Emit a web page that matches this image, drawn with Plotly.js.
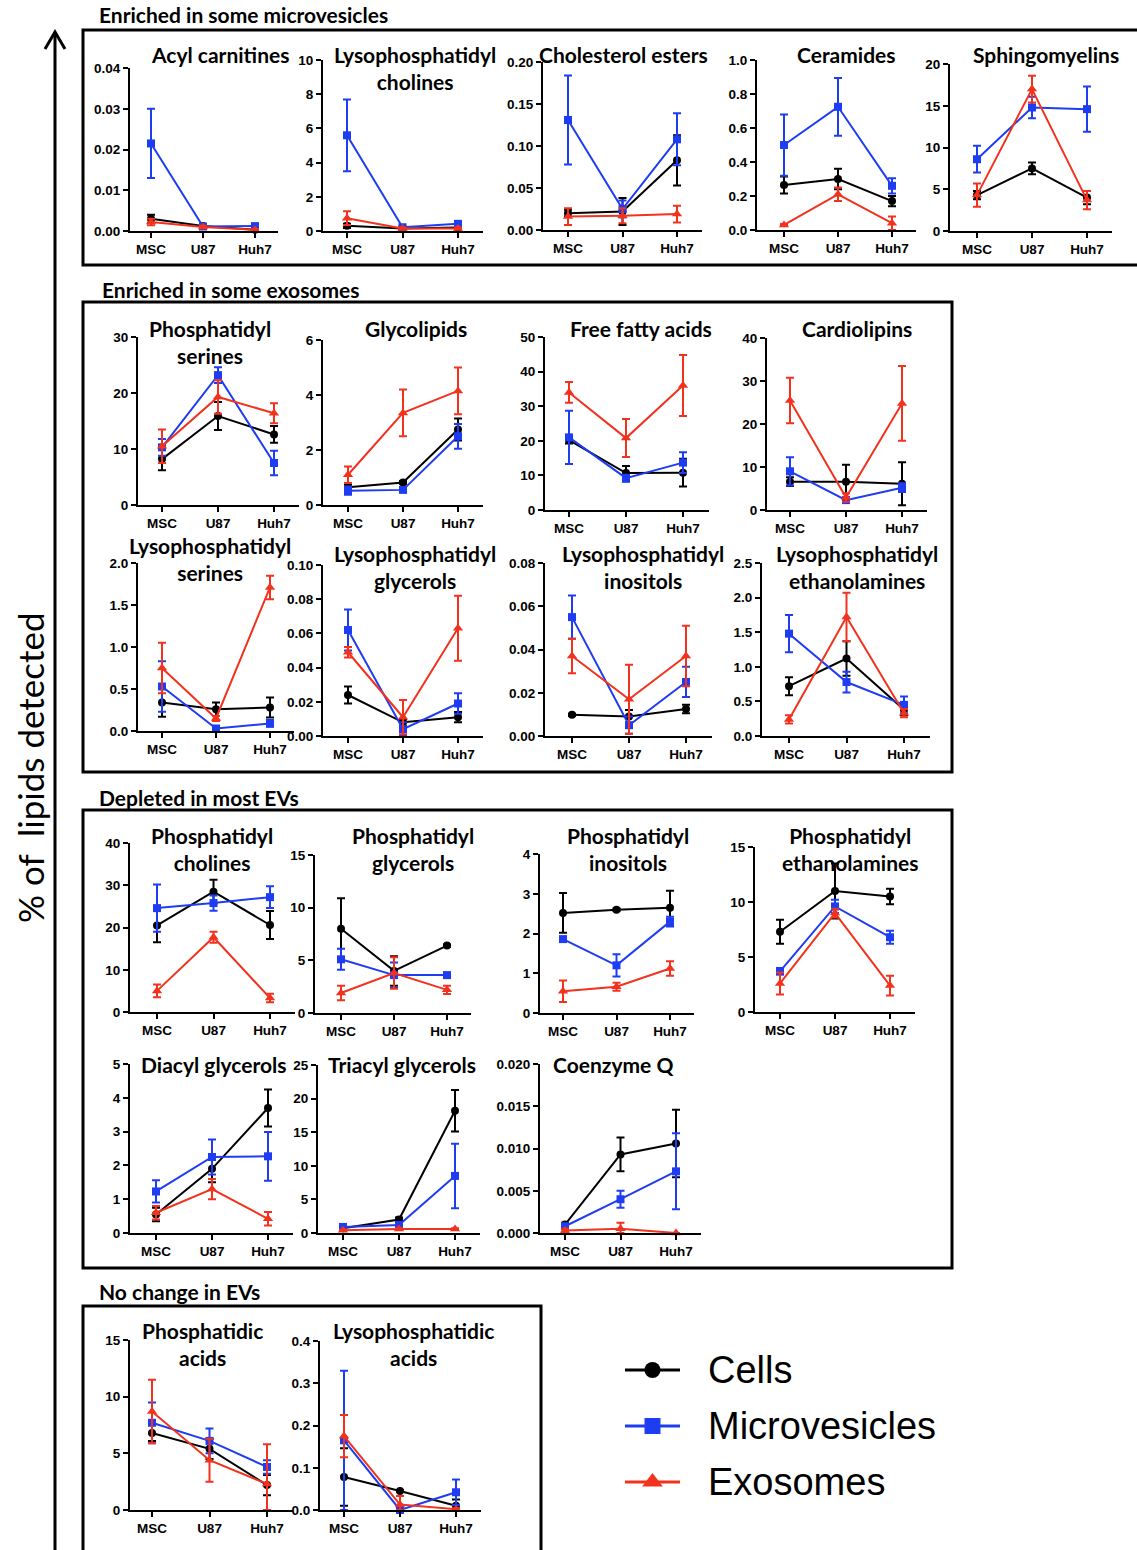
<!DOCTYPE html>
<html><head><meta charset="utf-8">
<script src="https://cdn.plot.ly/plotly-3.0.1.min.js"></script>
<style>body{margin:0;background:#fff}</style>
</head><body><div id="chart" style="width:1137px;height:1550px"></div>
<script>
// ---------------- DATA ----------------
const categories = ['MSC', 'U87', 'Huh7'];
const seriesNames = ['Cells', 'Microvesicles', 'Exosomes'];
const sectionTitles = ['Enriched in some microvesicles', 'Enriched in some exosomes', 'Depleted in most EVs', 'No change in EVs'];
const axisTitle = '% of  lipids detected';

const panelTitles = [
  'Acyl carnitines', 'Lysophosphatidyl<br>cholines', 'Cholesterol esters', 'Ceramides', 'Sphingomyelins',
  'Phosphatidyl<br>serines', 'Glycolipids', 'Free fatty acids', 'Cardiolipins',
  'Lysophosphatidyl<br>serines', 'Lysophosphatidyl<br>glycerols', 'Lysophosphatidyl<br>inositols', 'Lysophosphatidyl<br>ethanolamines',
  'Phosphatidyl<br>cholines', 'Phosphatidyl<br>glycerols', 'Phosphatidyl<br>inositols', 'Phosphatidyl<br>ethanolamines',
  'Diacyl glycerols', 'Triacyl glycerols', 'Coenzyme Q',
  'Phosphatidic<br>acids', 'Lysophosphatidic<br>acids'
];
// y-axis maxima, tick steps, decimals
const yMax   = [0.04, 10, 0.20, 1.0, 20,  30, 6, 50, 40,  2.0, 0.10, 0.08, 2.5,  40, 15, 4, 15,  5, 25, 0.020,  15, 0.4];
const yStep  = [0.01, 2, 0.05, 0.2, 5,   10, 2, 10, 10,  0.5, 0.02, 0.02, 0.5,  10, 5, 1, 5,    1, 5, 0.005,   5, 0.1];
const yDec   = [2, 0, 2, 1, 0,  0, 0, 0, 0,  1, 2, 2, 1,  0, 0, 0, 0,  0, 0, 3,  0, 1];

// means: [Cells, Microvesicles, Exosomes] x [MSC, U87, Huh7]; errors alongside
const acylCarnitines    = [[0.003, 0.0012, 0.0003], [0.0215, 0.0011, 0.0012], [0.0022, 0.001, 0.0003]];
const acylCarnitinesErr = [[0.001, 0.0003, 0.0002], [0.0085, 0.0004, 0.0004], [0.0008, 0.0003, 0.0002]];
const lysoPC    = [[0.3, 0.15, 0.2], [5.6, 0.22, 0.42], [0.75, 0.15, 0.15]];
const lysoPCErr = [[0.12, 0.05, 0.05], [2.1, 0.06, 0.1], [0.4, 0.05, 0.05]];
const cholEsters    = [[0.02, 0.022, 0.083], [0.131, 0.025, 0.108], [0.016, 0.017, 0.019]];
const cholEstersErr = [[0.004, 0.016, 0.03], [0.053, 0.01, 0.031], [0.01, 0.009, 0.01]];
const ceramides    = [[0.265, 0.30, 0.17], [0.50, 0.725, 0.26], [0.03, 0.21, 0.04]];
const ceramidesErr = [[0.05, 0.06, 0.03], [0.18, 0.17, 0.045], [0.005, 0.04, 0.04]];
const sphingo    = [[4.3, 7.5, 4.0], [8.6, 14.8, 14.6], [4.3, 17.0, 3.7]];
const sphingoErr = [[0.5, 0.7, 0.8], [1.6, 1.3, 2.7], [1.4, 1.6, 1.1]];
const phosSer    = [[8.2, 15.9, 12.6], [10.3, 23.2, 7.5], [10.5, 19.3, 16.4]];
const phosSerErr = [[2.0, 2.5, 1.5], [1.5, 1.4, 2.2], [3.0, 3.0, 1.8]];
const glycolipids    = [[0.65, 0.82, 2.75], [0.52, 0.55, 2.5], [1.1, 3.35, 4.15]];
const glycolipidsErr = [[0.1, 0.05, 0.4], [0.15, 0.06, 0.45], [0.3, 0.85, 0.85]];
const ffa    = [[20.2, 10.7, 10.8], [21.0, 9.2, 13.7], [34.0, 20.8, 36.0]];
const ffaErr = [[1.0, 2.0, 4.0], [7.7, 1.0, 3.0], [3.0, 5.5, 8.8]];
const cardiolipins    = [[6.6, 6.6, 6.1], [9.0, 2.3, 5.2], [25.5, 2.9, 24.8]];
const cardiolipinsErr = [[1.0, 3.9, 5.0], [3.3, 0.5, 1.0], [5.3, 1.0, 8.7]];
const lysoPS    = [[0.34, 0.26, 0.28], [0.53, 0.03, 0.09], [0.75, 0.15, 1.71]];
const lysoPSErr = [[0.17, 0.08, 0.12], [0.3, 0.02, 0.04], [0.3, 0.03, 0.14]];
const lysoPG    = [[0.024, 0.008, 0.011], [0.062, 0.004, 0.019], [0.049, 0.011, 0.063]];
const lysoPGErr = [[0.005, 0.002, 0.003], [0.012, 0.004, 0.006], [0.003, 0.01, 0.019]];
const lysoPI    = [[0.0098, 0.009, 0.0125], [0.055, 0.005, 0.025], [0.037, 0.017, 0.037]];
const lysoPIErr = [[0.0005, 0.003, 0.002], [0.010, 0.004, 0.007], [0.008, 0.016, 0.014]];
const lysoPE    = [[0.72, 1.12, 0.38], [1.48, 0.78, 0.45], [0.24, 1.72, 0.33]];
const lysoPEErr = [[0.13, 0.25, 0.08], [0.27, 0.15, 0.12], [0.06, 0.35, 0.06]];
const phosCho    = [[20.5, 28.5, 20.6], [24.6, 25.8, 27.2], [5.0, 17.7, 3.3]];
const phosChoErr = [[4.0, 2.8, 3.3], [5.6, 1.8, 2.6], [1.5, 1.3, 1.0]];
const phosGly    = [[8.0, 4.0, 6.4], [5.1, 3.6, 3.6], [1.9, 3.8, 2.2]];
const phosGlyErr = [[2.9, 1.4, 0.1], [1.0, 1.2, 0.1], [0.7, 1.5, 0.4]];
const phosIno    = [[2.52, 2.6, 2.65], [1.86, 1.2, 2.3], [0.55, 0.66, 1.12]];
const phosInoErr = [[0.5, 0.03, 0.43], [0.05, 0.28, 0.12], [0.27, 0.1, 0.18]];
const phosEth    = [[7.3, 11.0, 10.5], [3.7, 9.6, 6.8], [2.6, 9.0, 2.4]];
const phosEthErr = [[1.1, 2.5, 0.7], [0.3, 0.6, 0.6], [1.0, 0.4, 0.9]];
const diacylGly    = [[0.55, 1.9, 3.7], [1.23, 2.25, 2.27], [0.6, 1.3, 0.42]];
const diacylGlyErr = [[0.2, 0.4, 0.55], [0.33, 0.52, 0.72], [0.2, 0.3, 0.2]];
const triacylGly    = [[0.7, 2.0, 18.2], [0.9, 1.2, 8.5], [0.4, 0.6, 0.6]];
const triacylGlyErr = [[0.2, 0.3, 3.1], [0.2, 0.2, 4.8], [0.1, 0.1, 0.1]];
const coenzymeQ    = [[0.001, 0.0093, 0.0106], [0.0008, 0.004, 0.0073], [0.0003, 0.0005, 0.0]];
const coenzymeQErr = [[0.0002, 0.002, 0.004], [0.0002, 0.001, 0.0045], [0.0002, 0.0007, 0.0]];
const phosAcids    = [[6.8, 5.4, 2.2], [7.7, 6.1, 3.8], [8.7, 4.4, 2.3]];
const phosAcidsErr = [[0.7, 0.9, 0.9], [1.8, 1.1, 0.6], [2.8, 1.9, 3.5]];
const lysoPA    = [[0.078, 0.045, 0.01], [0.165, 0.0, 0.042], [0.175, 0.013, 0.002]];
const lysoPAErr = [[0.068, 0.002, 0.015], [0.165, 0.003, 0.03], [0.05, 0.02, 0.002]];

const panelMeans = [acylCarnitines, lysoPC, cholEsters, ceramides, sphingo, phosSer, glycolipids, ffa, cardiolipins,
  lysoPS, lysoPG, lysoPI, lysoPE, phosCho, phosGly, phosIno, phosEth, diacylGly, triacylGly, coenzymeQ, phosAcids, lysoPA];
const panelErrs = [acylCarnitinesErr, lysoPCErr, cholEstersErr, ceramidesErr, sphingoErr, phosSerErr, glycolipidsErr, ffaErr, cardiolipinsErr,
  lysoPSErr, lysoPGErr, lysoPIErr, lysoPEErr, phosChoErr, phosGlyErr, phosInoErr, phosEthErr, diacylGlyErr, triacylGlyErr, coenzymeQErr, phosAcidsErr, lysoPAErr];

// ---------------- LAYOUT GEOMETRY (pixels) ----------------
const W = 1137, H = 1550;
const px = x => x / W, py = y => 1 - y / H;
// [axisLeft, MSC x, Huh7 x, top tick y, zero y]
const geom = [
  [130, 151, 255, 68, 231], [323, 347, 458, 60, 231], [543, 568, 677, 62, 230], [757, 784, 892, 60, 230], [950, 977, 1087, 64, 231],
  [138, 162, 274, 337, 505], [323, 348, 458, 340, 505], [545, 569, 683, 337, 510], [767, 790, 902, 338, 510],
  [138, 162, 270, 563, 731], [323, 348, 458, 565, 736], [545, 572, 686, 563, 736], [762, 789, 904, 563, 736],
  [130, 157, 270, 843, 1012], [315, 341, 447, 855, 1013], [540, 563, 670, 854, 1013], [755, 780, 890, 847, 1012],
  [130, 156, 268, 1064, 1233], [318, 343, 455, 1065, 1233], [540, 565, 676, 1064, 1233],
  [130, 152, 267, 1340, 1510], [320, 344, 456, 1341, 1510]
];
// title centre x, first-line centre y
const titlePos = [
  [220, 54], [415, 54], [623, 54], [846, 54], [1046, 54],
  [210, 328], [416, 328], [641, 328], [857, 328],
  [210, 545], [415, 553], [643, 553], [857, 553],
  [212, 835], [413, 835], [628, 835], [850, 835],
  [214, 1064], [402, 1064], [613, 1064],
  [202, 1330], [413, 1330]
];
const sectionPos = [[97, 15], [100, 289], [97, 797], [97, 1291]];
const boxes = [[83, 30, 1145, 265], [83, 302, 952, 772], [83, 810, 952, 1268], [83, 1306, 541, 1560]];

const colors = ['#000000', '#1e3cf2', '#f3321e'];
const symbols = ['circle', 'square', 'triangle-up'];
const msizes = [8, 8, 9];
const tickFont = {family: 'Liberation Sans, Arial, sans-serif', size: 13.5, color: '#000', weight: 'bold'};
const titleFont = {family: 'Lato, sans-serif', size: 21, color: '#000', weight: 'bold'};

const traces = [];
const layout = {
  width: W, height: H, margin: {l: 0, r: 0, t: 0, b: 0}, showlegend: false,
  paper_bgcolor: '#fff', plot_bgcolor: 'rgba(0,0,0,0)', annotations: [], shapes: []
};

panelTitles.forEach((title, i) => {
  const k = i + 1, sfx = k === 1 ? '' : String(k);
  const [L, m, h, T, B] = geom[i];
  const s = (h - m) / 2;
  const lo = -(m - L) / s, hi = 2.45, R = h + 0.45 * s;
  const tv = [], tt = [];
  for (let j = 0; j * yStep[i] <= yMax[i] * 1.0001; j++) { const v = j * yStep[i]; tv.push(v); tt.push(v.toFixed(yDec[i])); }
  layout['xaxis' + sfx] = {
    domain: [px(L), px(R)], anchor: 'y' + sfx, type: 'category', categoryarray: categories, range: [lo, hi],
    showline: true, linewidth: 2, linecolor: '#000', ticks: 'outside', ticklen: 5, tickwidth: 2, tickcolor: '#000',
    showgrid: false, zeroline: false, tickfont: tickFont, fixedrange: true
  };
  layout['yaxis' + sfx] = {
    domain: [py(B), py(T)], anchor: 'x' + sfx, range: [0, yMax[i] * 1.0005], tickvals: tv, ticktext: tt,
    showline: true, linewidth: 2, linecolor: '#000', ticks: 'outside', ticklen: 5, tickwidth: 2, tickcolor: '#000',
    showgrid: false, zeroline: false, tickfont: tickFont, fixedrange: true
  };
  for (let sIdx = 0; sIdx < 3; sIdx++) {
    const mean = panelMeans[i][sIdx], err = panelErrs[i][sIdx];
    traces.push({
      type: 'scatter', mode: 'lines+markers', x: categories, y: mean, xaxis: 'x' + sfx, yaxis: 'y' + sfx,
      name: seriesNames[sIdx], cliponaxis: false,
      line: {color: colors[sIdx], width: 2},
      marker: {color: colors[sIdx], symbol: symbols[sIdx], size: msizes[sIdx]},
      error_y: {type: 'data', symmetric: false, array: err, arrayminus: err.map((e, q) => Math.min(e, mean[q])),
        color: colors[sIdx], thickness: 2, width: 4}
    });
  }
  layout.annotations.push({
    xref: 'paper', yref: 'paper', x: px(titlePos[i][0]), y: py(titlePos[i][1] - 14), xanchor: 'center', yanchor: 'top',
    text: title, showarrow: false, font: titleFont, align: 'center'
  });
});

// section titles and boxes
sectionTitles.forEach((t, i) => {
  layout.annotations.push({xref: 'paper', yref: 'paper', x: px(sectionPos[i][0]), y: py(sectionPos[i][1]), xanchor: 'left', yanchor: 'middle',
    text: t, showarrow: false, font: {family: 'Lato, sans-serif', size: 21, color: '#000', weight: 'bold'}});
  const b = boxes[i];
  layout.shapes.push({type: 'rect', xref: 'paper', yref: 'paper', x0: px(b[0]), x1: px(b[2]), y0: py(b[1]), y1: py(b[3]),
    line: {color: '#000', width: 3}, fillcolor: 'rgba(0,0,0,0)'});
});

// big vertical arrow + axis title
layout.shapes.push({type: 'line', xref: 'paper', yref: 'paper', x0: px(55), x1: px(55), y0: py(1552), y1: py(33), line: {color: '#000', width: 3}});
layout.shapes.push({type: 'path', xref: 'paper', yref: 'paper',
  path: `M ${px(45)} ${py(49)} L ${px(55)} ${py(32)} L ${px(65)} ${py(49)}`, line: {color: '#000', width: 3}});
layout.annotations.push({xref: 'paper', yref: 'paper', x: px(30), y: py(768), textangle: -90, xanchor: 'center', yanchor: 'middle',
  text: axisTitle, showarrow: false, font: {family: 'Lato, sans-serif', size: 35, color: '#000'}});

// legend as its own small subplot
const lk = '23';
layout['xaxis' + lk] = {domain: [px(625), px(680)], anchor: 'y' + lk, range: [0, 2], visible: false, fixedrange: true};
layout['yaxis' + lk] = {domain: [py(1510), py(1342)], anchor: 'x' + lk, range: [2.5, -0.5], visible: false, fixedrange: true};
seriesNames.forEach((n, sIdx) => {
  traces.push({type: 'scatter', mode: 'lines', x: [0, 2], y: [sIdx, sIdx], xaxis: 'x' + lk, yaxis: 'y' + lk,
    line: {color: colors[sIdx], width: 3}, hoverinfo: 'skip'});
  traces.push({type: 'scatter', mode: 'markers', x: [1], y: [sIdx], xaxis: 'x' + lk, yaxis: 'y' + lk, cliponaxis: false,
    marker: {color: colors[sIdx], symbol: symbols[sIdx], size: sIdx === 2 ? 18 : 16}, hoverinfo: 'skip'});
  layout.annotations.push({xref: 'paper', yref: 'y' + lk, x: px(706), y: sIdx, xanchor: 'left', yanchor: 'middle',
    text: n, showarrow: false, font: {family: 'Liberation Sans, Arial, sans-serif', size: 38, color: '#000'}});
});

Plotly.newPlot('chart', traces, layout, {displayModeBar: false, staticPlot: true});
</script>
</body></html>
